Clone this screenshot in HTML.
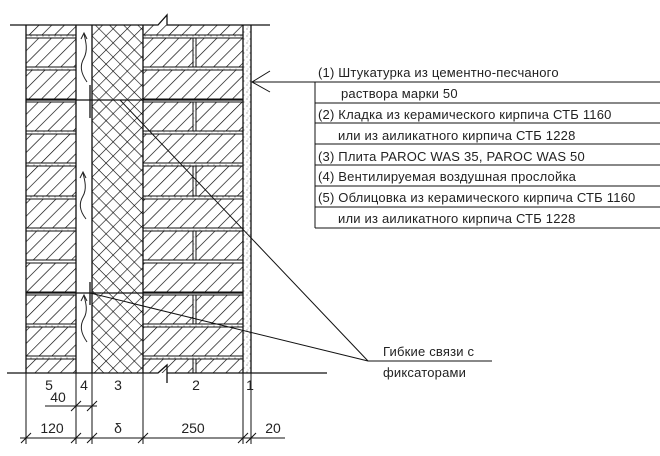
<!DOCTYPE html>
<html><head><meta charset="utf-8"><style>
html,body{margin:0;padding:0;background:#fff;}
svg{display:block;}
text{font-family:"Liberation Sans",sans-serif;fill:#222;}
</style></head><body>
<svg width="660" height="456" viewBox="0 0 660 456" xmlns="http://www.w3.org/2000/svg">
<defs>
<pattern id="hatch" patternUnits="userSpaceOnUse" width="9" height="9" patternTransform="rotate(45)">
<rect width="9" height="9" fill="#fff"/><line x1="0" y1="0" x2="0" y2="9" stroke="#000" stroke-width="1.3"/>
</pattern>
<pattern id="cross" patternUnits="userSpaceOnUse" width="10" height="10" patternTransform="rotate(45)">
<rect width="10" height="10" fill="#fff"/><line x1="0" y1="0" x2="0" y2="10" stroke="#000" stroke-width="1.2"/><line x1="0" y1="0" x2="10" y2="0" stroke="#000" stroke-width="1.2"/>
</pattern>
<pattern id="dots" patternUnits="userSpaceOnUse" width="6" height="7">
<rect width="6" height="7" fill="#fff"/><circle cx="1" cy="1" r="0.6" fill="#777"/><circle cx="4" cy="4" r="0.6" fill="#888"/><circle cx="2" cy="6" r="0.5" fill="#999"/>
</pattern>
</defs>
<rect x="26" y="25" width="50" height="348" fill="url(#hatch)"/>
<rect x="143" y="25" width="100" height="348" fill="url(#hatch)"/>
<rect x="92" y="25" width="51" height="348" fill="url(#cross)"/>
<rect x="243" y="25" width="8" height="348" fill="url(#dots)"/>
<g stroke="#111" stroke-width="1" fill="url(#dots)">
<rect x="26" y="35" width="50" height="3"/><rect x="143" y="35" width="100" height="3"/>
<rect x="26" y="67" width="50" height="3"/><rect x="143" y="67" width="100" height="3"/>
<rect x="26" y="99" width="50" height="3"/><rect x="143" y="99" width="100" height="3"/>
<rect x="26" y="131" width="50" height="3"/><rect x="143" y="131" width="100" height="3"/>
<rect x="26" y="163" width="50" height="3"/><rect x="143" y="163" width="100" height="3"/>
<rect x="26" y="196" width="50" height="3"/><rect x="143" y="196" width="100" height="3"/>
<rect x="26" y="228" width="50" height="3"/><rect x="143" y="228" width="100" height="3"/>
<rect x="26" y="260" width="50" height="3"/><rect x="143" y="260" width="100" height="3"/>
<rect x="26" y="292" width="50" height="3"/><rect x="143" y="292" width="100" height="3"/>
<rect x="26" y="324" width="50" height="3"/><rect x="143" y="324" width="100" height="3"/>
<rect x="26" y="356" width="50" height="3"/><rect x="143" y="356" width="100" height="3"/>
<rect x="193" y="38" width="3" height="29"/>
<rect x="193" y="102" width="3" height="29"/>
<rect x="193" y="166" width="3" height="30"/>
<rect x="193" y="231" width="3" height="29"/>
<rect x="193" y="295" width="3" height="29"/>
<rect x="193" y="359" width="3" height="14"/>
</g>
<g stroke="#111" stroke-width="1.3" fill="none">
<line x1="26" y1="25" x2="26" y2="373"/>
<line x1="76" y1="25" x2="76" y2="373"/>
<line x1="92" y1="25" x2="92" y2="373"/>
<line x1="143" y1="25" x2="143" y2="373"/>
<line x1="243" y1="25" x2="243" y2="373"/>
<line x1="251" y1="25" x2="251" y2="373"/>
<polyline points="10,25 158,25 167,15 167,25 270,25"/>
<polyline points="7,373 158,373 167,365 167,383 167,373 327,373"/>
<line x1="26" y1="100" x2="243" y2="100"/>
<line x1="26" y1="293" x2="243" y2="293"/>
<line x1="90" y1="85" x2="90" y2="118"/>
<line x1="90" y1="282" x2="90" y2="305"/>
</g>
<g stroke="#222" stroke-width="1" fill="none">
<path d="M87,82 C80,72 80,65 84,58 C88,50 86,42 84,34"/><polyline points="81,39 84,33 87,39"/>
<path d="M86,219 C79,210 79,203 83,196 C87,189 85,181 83,173"/><polyline points="80,178 83,172 86,178"/>
<path d="M87,342 C80,332 80,325 84,318 C88,311 86,303 84,296"/><polyline points="81,301 84,295 87,301"/>
</g>
<g stroke="#111" stroke-width="1" fill="none">
<line x1="120" y1="100" x2="368" y2="361"/>
<line x1="90" y1="293" x2="368" y2="361"/>
<line x1="368" y1="361" x2="492" y2="361"/>
<polyline points="270,71 252,82 270,92"/>
<line x1="252" y1="82" x2="660" y2="82"/>
<line x1="315" y1="82" x2="315" y2="228"/>
<line x1="315" y1="103" x2="660" y2="103"/>
<line x1="315" y1="123" x2="660" y2="123"/>
<line x1="315" y1="144" x2="660" y2="144"/>
<line x1="315" y1="165" x2="660" y2="165"/>
<line x1="315" y1="186" x2="660" y2="186"/>
<line x1="315" y1="207" x2="660" y2="207"/>
<line x1="315" y1="228" x2="660" y2="228"/>
</g>
<g font-size="13" letter-spacing="0.2">
<text x="318" y="77">(1) Штукатурка из цементно-песчаного</text>
<text x="341" y="98">раствора марки 50</text>
<text x="318" y="119">(2) Кладка из керамического кирпича СТБ 1160</text>
<text x="338" y="140">или из аиликатного кирпича СТБ 1228</text>
<text x="318" y="161">(3) Плита PAROC WAS 35, PAROC WAS 50</text>
<text x="318" y="181">(4) Вентилируемая воздушная прослойка</text>
<text x="318" y="202">(5) Облицовка из керамического кирпича СТБ 1160</text>
<text x="338" y="223">или из аиликатного кирпича СТБ 1228</text>
<text x="383" y="356">Гибкие связи с</text>
<text x="383" y="377">фиксаторами</text>
</g>
<g stroke="#111" stroke-width="1" fill="none">
<line x1="26" y1="373" x2="26" y2="444"/>
<line x1="76" y1="373" x2="76" y2="444"/>
<line x1="92" y1="373" x2="92" y2="444"/>
<line x1="143" y1="373" x2="143" y2="444"/>
<line x1="243" y1="373" x2="243" y2="444"/>
<line x1="251" y1="373" x2="251" y2="444"/>
<line x1="20" y1="438" x2="285" y2="438"/>
<line x1="45" y1="406" x2="97" y2="406"/>
<line x1="21" y1="443" x2="31" y2="433"/><line x1="71" y1="443" x2="81" y2="433"/>
<line x1="87" y1="443" x2="97" y2="433"/><line x1="138" y1="443" x2="148" y2="433"/>
<line x1="238" y1="443" x2="248" y2="433"/><line x1="246" y1="443" x2="256" y2="433"/>
<line x1="71" y1="411" x2="81" y2="401"/><line x1="87" y1="411" x2="97" y2="401"/>
</g>
<g font-size="14" text-anchor="middle">
<text x="49" y="390">5</text><text x="84" y="390">4</text><text x="118" y="390">3</text>
<text x="196" y="390">2</text><text x="250" y="390">1</text>
<text x="58" y="402">40</text>
<text x="52" y="433">120</text><text x="118" y="433">δ</text>
<text x="193" y="433">250</text><text x="273" y="433">20</text>
</g>
</svg>
</body></html>
